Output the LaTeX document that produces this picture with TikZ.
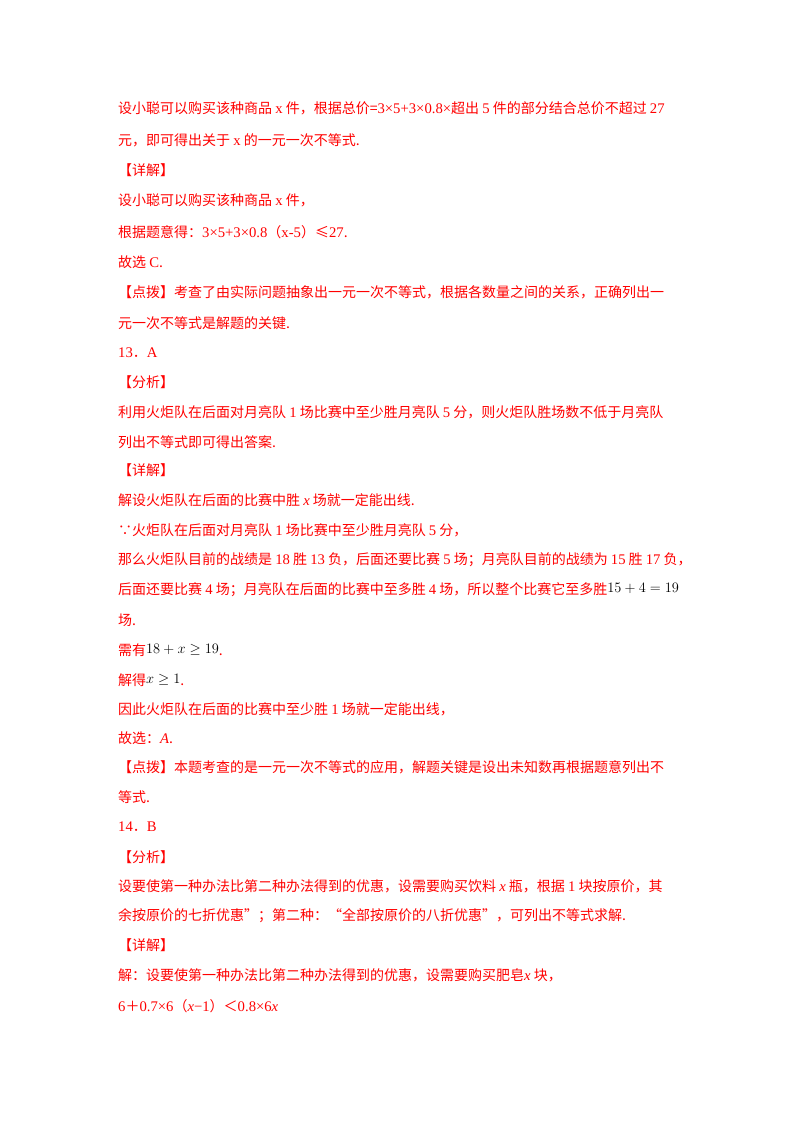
\documentclass[tikz,border=0pt]{standalone}
\usepackage{fontspec}
\setmainfont{Noto Sans CJK SC}
\newfontfamily\lat[Scale=1.05]{Liberation Serif}
\definecolor{txt}{RGB}{255,0,0}
\newcommand{\mth}[1]{\textcolor{black}{\lat\raisebox{2pt}{#1}}}
\begin{document}
\begin{tikzpicture}[x=1pt,y=-1pt,ln/.style={anchor=west,inner sep=0pt,text=txt,font=\fontsize{14}{16}\selectfont}]
\useasboundingbox (0,0) rectangle (800,1132);
\node[ln] (l1) at (118,108) {设小聪可以购买该种商品 {\lat x} 件，根据总价={\lat 3×5+3×0.8×}超出 {\lat 5} 件的部分结合总价不超过 {\lat 27}};
\node[ln] (l2) at (118,140) {元，即可得出关于 {\lat x} 的一元一次不等式.};
\node[ln] (l3) at (118,170) {【详解】};
\node[ln] (l4) at (118,200) {设小聪可以购买该种商品 {\lat x} 件，};
\node[ln] (l5) at (118,232) {根据题意得：{\lat 3×5+3×0.8}（{\lat x-5}）≤{\lat 27}.};
\node[ln] (l6) at (118,262) {故选 {\lat C}.};
\node[ln] (l7) at (118,292) {【点拨】考查了由实际问题抽象出一元一次不等式，根据各数量之间的关系，正确列出一};
\node[ln] (l8) at (118,323) {元一次不等式是解题的关键.};
\node[ln] (l9) at (118,353) {{\lat 13}．{\lat A}};
\node[ln] (l10) at (118,382) {【分析】};
\node[ln] (l11) at (118,412) {利用火炬队在后面对月亮队 {\lat 1} 场比赛中至少胜月亮队 {\lat 5} 分，则火炬队胜场数不低于月亮队};
\node[ln] (l12) at (118,442) {列出不等式即可得出答案.};
\node[ln] (l13) at (118,470) {【详解】};
\node[ln] (l14) at (118,500) {解设火炬队在后面的比赛中胜 {\lat\itshape x} 场就一定能出线.};
\node[ln] (l15) at (118,530) {∵火炬队在后面对月亮队 {\lat 1} 场比赛中至少胜月亮队 {\lat 5} 分，};
\node[ln] (l16) at (118,560) {那么火炬队目前的战绩是 {\lat 18} 胜 {\lat 13} 负，后面还要比赛 {\lat 5} 场；月亮队目前的战绩为 {\lat 15} 胜 {\lat 17} 负，};
\node[ln] (l17) at (118,590) {后面还要比赛 {\lat 4} 场；月亮队在后面的比赛中至多胜 {\lat 4} 场，所以整个比赛它至多胜\mth{$15+4=19$}};
\node[ln] (l18) at (118,620) {场.};
\node[ln] (l19) at (118,650) {需有\mth{$18+x\geq19$}.};
\node[ln] (l20) at (118,680) {解得\mth{$x\geq1$}.};
\node[ln] (l21) at (118,709) {因此火炬队在后面的比赛中至少胜 {\lat 1} 场就一定能出线，};
\node[ln] (l22) at (118,738) {故选：{\lat\itshape A}.};
\node[ln] (l23) at (118,767) {【点拨】本题考查的是一元一次不等式的应用，解题关键是设出未知数再根据题意列出不};
\node[ln] (l24) at (118,797) {等式.};
\node[ln] (l25) at (118,827) {{\lat 14}．{\lat B}};
\node[ln] (l26) at (118,857) {【分析】};
\node[ln] (l27) at (118,886) {设要使第一种办法比第二种办法得到的优惠，设需要购买饮料 {\lat\itshape x} 瓶，根据 {\lat 1} 块按原价，其};
\node[ln] (l28) at (118,916) {余按原价的七折优惠”；第二种：“全部按原价的八折优惠”，可列出不等式求解.};
\node[ln] (l29) at (118,945) {【详解】};
\node[ln] (l30) at (118,975) {解：设要使第一种办法比第二种办法得到的优惠，设需要购买肥皂{\lat\itshape x} 块，};
\node[ln] (l31) at (118,1006) {{\lat 6}＋{\lat 0.7×6}（{\lat\itshape x}{\lat −1}）＜{\lat 0.8×6\itshape x}};
\end{tikzpicture}
\end{document}
